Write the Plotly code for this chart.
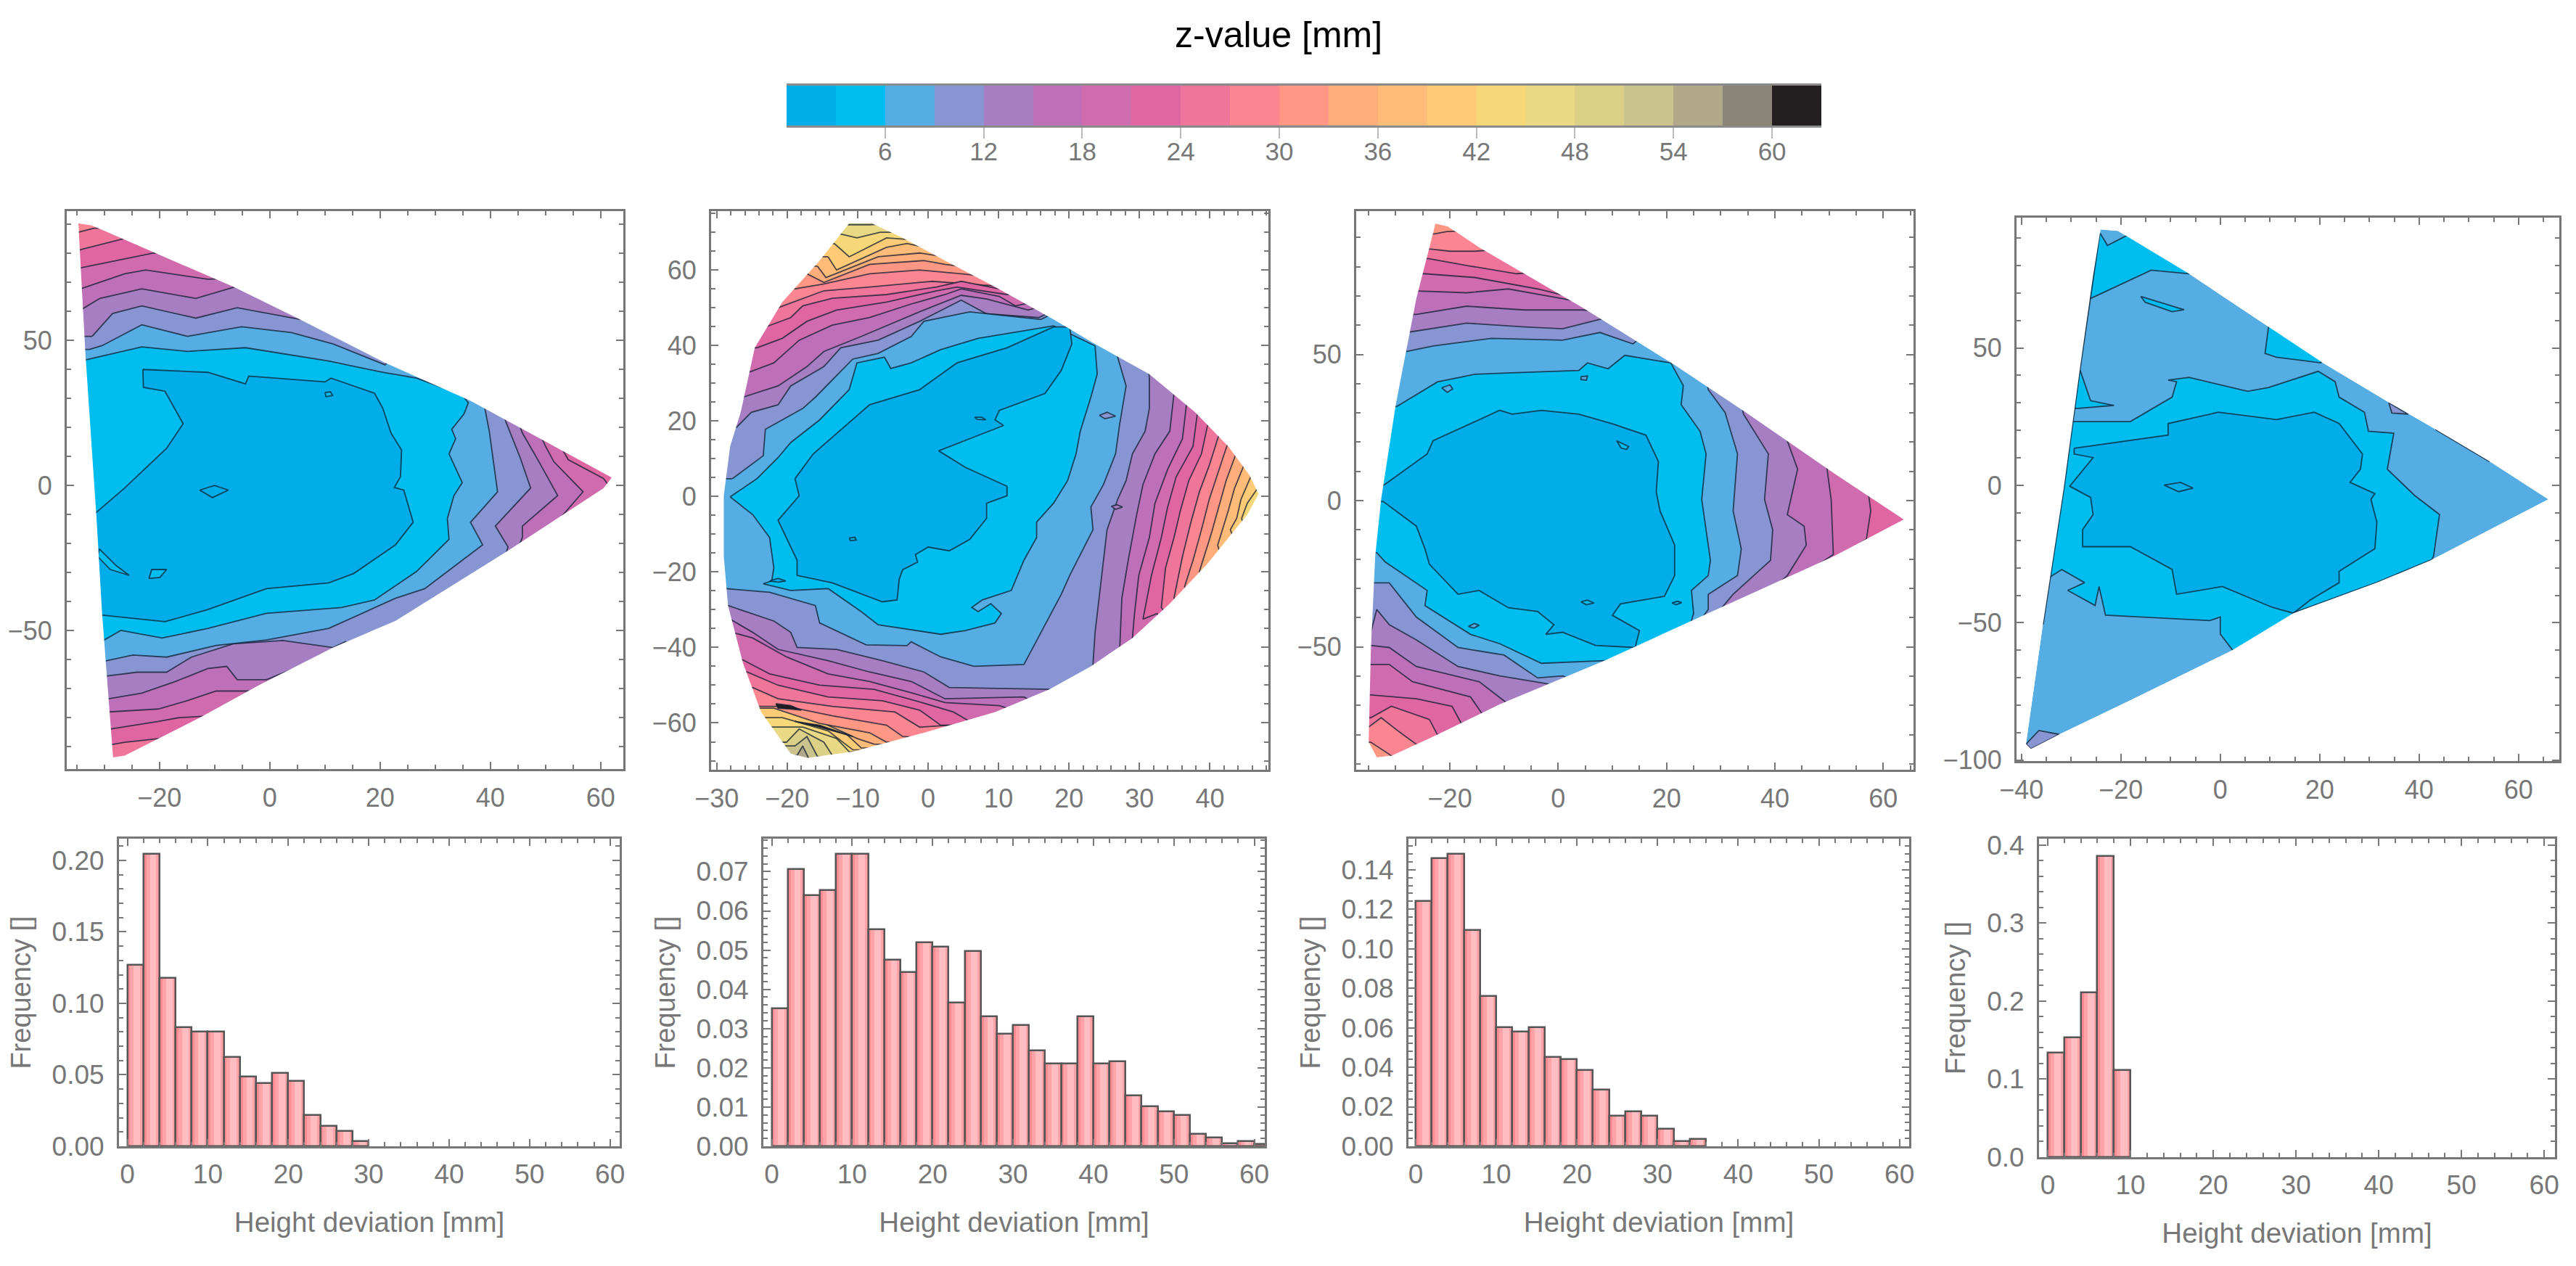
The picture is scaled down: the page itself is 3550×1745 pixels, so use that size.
import plotly.graph_objects as go

FONT = "Liberation Sans"
GRAY = "#777777"
LINE = "rgba(15,30,50,0.75)"
W, H = 3550, 1745

# colour of each 3 mm band, 0-3 first
band_colors = ["#00ADE9", "#00BDF0", "#55ADE3", "#8795D2", "#A87EC3", "#BD6FB7", "#D06BAE",
               "#E066A3", "#F0759A", "#FC8592", "#FF9784", "#FFAD7B", "#FFBB78", "#FFCB77",
               "#F7D878", "#E9D884", "#DCCF86", "#CBC38D", "#B0A888", "#8A8576", "#231F20"]
band_edges = [3 * i for i in range(22)]
bar_ticks = [6, 12, 18, 24, 30, 36, 42, 48, 54, 60]

# ---- panel 1, regions z < level
p1_outline = [(-34.7, 90.4), (-32.3, 89.7), (-21.7, 80.9), (-6.6, 68.5), (5.4, 57.3), (20.9, 42.3), (36.4, 29.2),
              (62, 2.7), (60.5, -1), (43.2, -22.5), (22.8, -46.7), (11.5, -55.9), (-2.1, -69), (-12.7, -80.1),
              (-26.3, -93.2), (-28.4, -93.8), (-30.4, -44), (-31.4, -11.4), (-33.4, 44.9)]
p1_l3 = [(-23, 40), (-11.2, 39), (-4.4, 35), (-3.8, 37.7), (10, 35.7), (11.1, 37), (19, 31.8), (20.5, 26.6), (22, 18),
         (23.9, 12.2), (23.7, 3), (22.6, -0.7), (24.3, -1.6), (26, -12.7), (22.8, -20.5), (15.2, -30.4), (10.7, -33.6),
         (-0.6, -35.6), (-11.2, -42.8), (-19, -47), (-30, -44.8), (-40, -44.8), (-40, -9.4), (-31.5, -9.4),
         (-26.3, -0.9), (-18.7, 12.8), (-15.7, 21.3), (-19, 32.5), (-22.9, 33.8)]
p1_l6 = [(-33.4, 43.3), (-23.2, 47.8), (-14.9, 46.2), (-4.4, 47.5), (10.7, 42.9), (20.5, 39), (26.6, 37), (34.9, 31.2),
         (36, 28.5), (35.2, 24.6), (33, 19.4), (33.7, 16.1), (32.5, 10.9), (34.9, 1), (33.4, -3.5), (32.2, -11.4),
         (32.5, -18.6), (26.6, -29.7), (19, -39.5), (13, -42.1), (-0.6, -44.1), (-11.2, -49.3), (-19.5, -52.6),
         (-27, -50), (-30, -53.3), (-45, -53), (-45, 43.3)]
p1_l9 = [(-32.7, 46.9), (-30.4, 48.2), (-23.2, 55.4), (-14.9, 51.4), (-5.1, 54.7), (3.9, 52.7), (11.5, 48.8),
         (20.9, 41.6), (35, 75), (39, 26.6), (39.8, 18.7), (40.9, 3), (41.3, -2.2), (36.4, -12.7), (38.6, -20.5),
         (32.6, -29.1), (28.1, -35.6), (22.8, -38.9), (16.8, -44.1), (10.7, -49.3), (-0.6, -53.3), (-9.7, -55.2),
         (-18.7, -59.2), (-24.8, -58.5), (-29.7, -60.5), (-45, -60.5), (-45, 46.9)]
p1_l12 = [(-32.2, 51.4), (-28.5, 59.3), (-23.2, 61.9), (-13.4, 57.7), (-5.9, 61.3), (5.4, 57.3), (35, 75), (42.8, 22),
          (45.4, 9.6), (47.3, -0.9), (40.9, -14), (43.2, -21.2), (35, -70), (13.7, -53.9), (11.5, -55.9), (2.4, -53.5),
          (-6.6, -54.6), (-14.2, -59.2), (-18.7, -64.4), (-24, -64.4), (-29.4, -65.7), (-45, -65.7), (-45, 51.4)]
p1_l15 = [(-34.2, 60.6), (-30.8, 64.5), (-23.2, 67.8), (-13.4, 64.5), (-6.3, 68.5), (35, 75), (45.8, 18.1), (48.8, 8.2),
          (52.2, -3.5), (45.8, -14), (45.8, -17.9), (35, -70), (5.4, -62.4), (-0.6, -67), (-5.9, -67), (-7.8, -62.4),
          (-11.2, -63.1), (-17.2, -67.7), (-23.2, -71.6), (-29.4, -73.6), (-45, -73.6), (-45, 60.6)]
p1_l18 = [(-34.3, 67.8), (-26.3, 73), (-22.5, 74.3), (-11.2, 71.1), (35, 75), (50, 13.5), (51.5, 8.2), (56.8, -2.2),
          (52.6, -11.4), (35, -70), (-3.6, -70.9), (-9.7, -70.9), (-14.9, -74.2), (-20.2, -77.1), (-29.1, -78.1),
          (-45, -78.1), (-45, 67.8)]
p1_l21 = [(-34.4, 75), (-21, 80.2), (35, 75), (54.1, 8.9), (60.5, 2.4), (61.3, 0.4), (35, -70), (-11.2, -79.5),
          (-16.5, -80.1), (-20.2, -81.4), (-28.9, -84), (-45, -84), (-45, 75)]
p1_l24 = [(-34.6, 81.2), (-26.3, 85.2), (90, 90), (90, -100), (-20.2, -87.3), (-26.3, -88.6), (-28.5, -89.3),
          (-45, -89.3), (-45, 81.2)]
p1_l27 = [(-34.6, 87.4), (-31.9, 88.7), (90, 95), (90, -100), (-45, -100), (-45, 87.4)]
p1_levels = [(3, p1_l3), (6, p1_l6), (9, p1_l9), (12, p1_l12), (15, p1_l15), (18, p1_l18), (21, p1_l21), (24, p1_l24),
             (27, p1_l27)]
p1_islands = [(0, [(-12.7, -1.6), (-10, 0), (-7.5, -1.6), (-10.4, -4.2)]),
              (1, [(-30.9, -21.9), (-27.8, -27.7), (-25.5, -31), (-28.9, -29), (-31.2, -24.5)]),
              (1, [(-21.9, -32.1), (-21.4, -29), (-18.7, -29), (-19.9, -31.7)]),
              (1, [(10, 32), (11, 32.3), (11.4, 31), (10.2, 30.6)])]

# ---- panel 2
p2_outline = [(-11.2, 72.4), (-8, 72.4), (-3.6, 68.5), (2.4, 62.5), (9.5, 55.5), (17.8, 46.9), (23.7, 40.4), (31.4, 32.4),
              (37.9, 22.3), (42.6, 13.3), (45.6, 5.7), (46.9, 0.7), (45.3, -4.8), (39.6, -17.9), (34.3, -28.4),
              (29, -37.5), (23.1, -45), (17.2, -51.1), (9.5, -57.1), (-0.6, -62.6), (-10.7, -67.6), (-17.2, -69.3),
              (-19.5, -68.1), (-23.7, -57.1), (-26.3, -44), (-28.4, -28.9), (-29, -15.9), (-29, 0.2), (-28.1, 13.3),
              (-26.6, 22.3), (-24.6, 39.4), (-20.7, 51.5), (-15.4, 62.5)]
p2_l3 = [(-18.9, 4.7), (-16.3, 11.3), (-8.3, 24.3), (-1.2, 28.3), (4.1, 35.4), (11.2, 39.4), (17.8, 44.9), (20.1, 44.9),
         (20.4, 40.4), (18.9, 33.4), (16.6, 27.3), (10.1, 22.8), (9.5, 20.3), (10.7, 18.8), (5.9, 15.3), (1.5, 12.1),
         (5.3, 7.7), (8.9, 4.7), (11.2, 2.7), (11.2, 0.2), (8.3, -1.8), (8.3, -5.8), (5.9, -11.4), (3, -14.4), (0, -13.4),
         (-1.8, -15.4), (-1.5, -17.4), (-3.6, -19.4), (-4.1, -21.9), (-4.4, -27.4), (-6.5, -27.9), (-13.6, -22.9),
         (-18.6, -20.9), (-18.6, -16.9), (-20.7, -8.8), (-21.3, -6.3), (-18.3, 0.2)]
p2_l6 = [(-28.1, -0.1), (-24.3, 4.7), (-21.3, 10.3), (-19.5, 14.3), (-15.4, 20.3), (-11.2, 28.3), (-10.1, 35.4),
         (-6.2, 36.9), (-5.3, 33.9), (-2.4, 35.4), (1.8, 38.9), (7.1, 41.9), (17.8, 45.2), (23.7, 39.9), (24, 32.4),
         (23.1, 26.3), (21.6, 17.3), (21, 11.3), (19.8, 4.2), (17.8, -1.8), (15.4, -6.8), (15.4, -10.9), (13.6, -16.9),
         (11.8, -24.9), (7.7, -27.4), (6.2, -29.4), (7.1, -30.5), (8.9, -28.4), (10.4, -31), (9.5, -33.5), (5.3, -35.5),
         (1.8, -36.5), (-7.1, -34), (-9.5, -30.5), (-14.2, -24.4), (-19.5, -24.9), (-23.4, -23.1), (-22.2, -22.4),
         (-21.9, -18.9), (-22.5, -10.9), (-24.9, -4.8)]
p2_l9 = [(-27.8, 4.7), (-23.4, 10.8), (-23.1, 17.8), (-17.8, 23.3), (-16, 26.3), (-10.7, 36.4), (-7.1, 37.9), (-2.4, 42.4),
         (-0.6, 46.4), (5.9, 48.9), (16, 46.9), (30, 60), (26.9, 36.9), (28.1, 29.3), (27.2, 19.3), (26.6, 11.3),
         (24.9, 3.2), (23.1, -2.8), (23.4, -8.8), (20.1, -20.9), (18.9, -25.9), (13.6, -44.5), (6.5, -45), (1.8, -42.5),
         (-2.4, -38.5), (-3, -39.5), (-8.8, -39.3), (-15.4, -33.5), (-16, -28.9), (-22.5, -25.4), (-28.7, -24.4),
         (-40, -24.4), (-40, 4.7)]
p2_l12 = [(-27.2, 18.3), (-25.1, 22.3), (-21.3, 24.3), (-19.5, 29.3), (-14.8, 34.4), (-12.4, 39.4), (-7.1, 41.4),
          (-1.2, 46.4), (4.7, 52), (8.3, 48.4), (15.7, 47.4), (30, 60), (31.4, 31.4), (31.4, 23.3), (30.8, 17.3),
          (29, 11.3), (28.1, 4.2), (26.9, -0.8), (25.4, -8.8), (24.3, -26.9), (23.7, -36), (23.4, -44.5), (25, -70),
          (17.2, -51.1), (3, -50.6), (-0.6, -46.5), (-6.5, -43.5), (-13, -40.5), (-18.6, -40), (-19.5, -36), (-21.9, -33),
          (-28.4, -28.9), (-40, -28.9), (-40, 18.3)]
p2_l15 = [(-26.3, 26.3), (-21.3, 29.3), (-17.2, 34.4), (-14.8, 38.4), (-9.5, 42.4), (-0.6, 49.4), (4.7, 53.3), (8.3, 52.3),
          (14.2, 49.4), (35, 60), (34.9, 27.3), (34.3, 17.3), (32.2, 11.3), (30.5, 3.2), (29.6, -4.8), (28.4, -16.9),
          (27.5, -26.9), (27.2, -40), (30, -70), (13.6, -53.1), (2.4, -53.6), (-2.4, -49), (-8.3, -46.5), (-14.2, -43.5),
          (-21.3, -40.5), (-24.9, -36), (-28.1, -32.5), (-40, -32.5), (-40, 26.3)]
p2_l18 = [(-25.3, 33), (-21.9, 35.4), (-18.3, 41.4), (-13.6, 45.4), (-8.3, 47.4), (-2.4, 51), (2.4, 53.5), (4.7, 55),
          (10.1, 53), (12.4, 50.5), (36, 60), (36.7, 24.8), (36.1, 15.3), (34, 7.2), (32.2, -1.8), (31.4, -10.9),
          (29.9, -20.9), (29.3, -31), (29, -37.5), (35, -70), (10.1, -55.4), (2.4, -54.6), (-2.4, -52), (-8.3, -49),
          (-14.2, -47), (-20.1, -42.5), (-24.9, -37.5), (-27.8, -36), (-40, -36), (-40, 33)]
p2_l21 = [(-24.3, 39.4), (-20.7, 41.9), (-17.2, 46.4), (-13, 49.4), (-5.9, 51.5), (1.2, 54.5), (4.1, 55.5), (11.2, 53.5),
          (40, 60), (38.2, 21.8), (37.6, 13.3), (35.2, 5.2), (34, -2.8), (33.1, -10.9), (31.7, -20.9), (30.5, -32.5),
          (32.5, -31), (40, -70), (5.9, -59.6), (3.6, -57.1), (-1.8, -54.1), (-7.7, -51.1), (-15.4, -50), (-22.5, -47),
          (-26.6, -43), (-40, -43), (-40, 39.4)]
p2_l24 = [(-23.1, 44.9), (-19.5, 47.4), (-17.8, 50.5), (-13.6, 52.5), (-5.9, 53.5), (1.2, 55.5), (4.7, 57), (10.1, 55),
          (45, 55), (39.6, 18.3), (38.8, 11.3), (37, 4.2), (35.8, -3.8), (34.9, -10.9), (33.7, -18.9), (33.1, -29.4),
          (45, -60), (1.8, -60.6), (-1.2, -56.6), (-6.5, -54.1), (-14.2, -53.1), (-21.3, -50), (-25.7, -46.5),
          (-40, -46.5), (-40, 44.9)]
p2_l27 = [(-21.3, 50), (-17.8, 52.5), (-14.8, 54.5), (-8.3, 55.5), (0.6, 57), (7.7, 56), (48, 52), (41.1, 15.3), (39.9, 8.2),
          (38.5, 1.2), (37.3, -6.8), (36.1, -15.9), (34.9, -26.9), (48, -55), (-1.2, -61.1), (-4.7, -57.1), (-13.6, -55.6),
          (-21.3, -53.6), (-24.9, -50.6), (-40, -50.6), (-40, 50)]
p2_l30 = [(-18.9, 55), (-14.8, 56.3), (-8.3, 59), (-1.2, 60), (4.7, 59), (50, 50), (42.3, 12.8), (41.1, 6.2), (39.9, -0.8),
          (38.8, -8.8), (37.6, -16.9), (36.4, -23.9), (50, -70), (-3.6, -63.6), (-5.9, -60.6), (-13.6, -58.1),
          (-20.1, -55.6), (-24, -55.6), (-40, -55.6), (-40, 55)]
p2_l33 = [(-17.2, 59), (-14.8, 56.7), (-8.3, 61.5), (-0.6, 62.5), (2.4, 61.5), (50, 50), (43.5, 10.3), (42.3, 4.2),
          (41.4, -1.8), (40.2, -9.8), (38.5, -19.9), (50, -70), (-5.9, -65.1), (-8.3, -62.6), (-15.4, -60.1),
          (-21.9, -56.1), (-40, -56.1), (-40, 59)]
p2_l36 = [(-15.7, 61), (-14.5, 58), (-7.1, 63.5), (-1.2, 64.5), (50, 50), (44.7, 7.7), (43.5, 2.2), (42.6, -3.8),
          (41.1, -12.9), (50, -70), (-7.7, -65.6), (-10.1, -64.1), (-14.2, -60.6), (-18.3, -56.6), (-21.3, -55.1),
          (-40, -55.1), (-40, 61)]
p2_l39 = [(-14.2, 63.5), (-13, 60), (-5.9, 66), (-3, 67), (55, 45), (45.7, 4.7), (44.4, -0.8), (43.8, -5.8), (42.9, -8.8),
          (55, -70), (-9.5, -66.6), (-11.8, -62.6), (-15.4, -58.6), (-20.1, -55.6), (-40, -55.6), (-40, 63.5)]
p2_l42 = [(-13.3, 67), (-11.2, 63.5), (-5.9, 68.5), (55, 60), (46.6, 1.7), (45.3, -1.8), (44.5, -5.8), (55, -70),
          (-10.7, -67.1), (-14.2, -62.1), (-20.7, -58.6), (-40, -58.6), (-40, 67)]
p2_l45 = [(-12.4, 69.5), (-10.1, 68.5), (-6.8, 70), (60, 70), (60, -70), (-11.2, -67.6), (-13, -64.1), (-17.8, -61.1),
          (-21.3, -61.1), (-40, -61), (-40, 69.5)]
p2_l48 = [(-10.7, 72), (-8.3, 72), (60, 80), (60, -80), (-13.6, -68.6), (-14.8, -65.1), (-18.3, -61.6), (-20.1, -65.1),
          (-40, -65.1), (-40, 72)]
p2_l51 = [(-40, 90), (60, 90), (60, -80), (-15.7, -68.9), (-17.2, -63.6), (-18.9, -66.1), (-40, -66.1)]
p2_l54 = [(-40, 90), (60, 90), (60, -80), (-16.9, -69.6), (-17.8, -66.1), (-18.6, -68.6), (-40, -68.6)]
p2_levels = [(3, p2_l3), (6, p2_l6), (9, p2_l9), (12, p2_l12), (15, p2_l15), (18, p2_l18), (21, p2_l21), (24, p2_l24),
             (27, p2_l27), (30, p2_l30), (33, p2_l33), (36, p2_l36), (39, p2_l39), (42, p2_l42), (45, p2_l45),
             (48, p2_l48), (51, p2_l51), (54, p2_l54)]
p2_islands = [(3, [(24.3, 21.5), (25.4, 22.3), (26.6, 21.3), (25.1, 20.6)]),
              (4, [(26, -2.6), (26.8, -2.2), (27.6, -2.8), (26.6, -3.4)]),
              (1, [(6.6, 21), (7.6, 21), (8.2, 20.3), (7, 20.4)]),
              (1, [(-11.2, -11), (-10.4, -10.8), (-10.2, -11.5), (-11, -11.7)]),
              (0, [(-22.5, -22.4), (-21.3, -21.7), (-20.2, -22.4), (-21.3, -22.7)]),
              (20, [(-21.6, -54.9), (-19.5, -55.4), (-18, -56.6), (-19.5, -56.3), (-21.3, -56.1)]),
              (20, [(-18.9, -59.6), (-15.4, -60.6), (-10.7, -63.6), (-15.4, -61.1)])]

# ---- panel 3
p3_outline = [(-22.7, 94.8), (-20.4, 93.8), (-14.6, 86.6), (4.6, 65.9), (21.5, 46.4), (34.6, 30.2), (50.8, 9.5), (63.8, -6.4),
              (50.8, -19.1), (27.7, -38.5), (8.5, -54.7), (-10.8, -69.6), (-22.3, -80), (-30.8, -87.2), (-33.5, -87.8),
              (-35, -82.6), (-34.6, -51.5), (-33.8, -19.1), (-32.7, 0.4), (-30, 32.8), (-28.1, 51), (-26.2, 69.1),
              (-23.5, 88.6)]
p3_l3 = [(-32.2, 5.3), (-24.2, 16), (-23.1, 20.5), (-10.8, 30.9), (-8.5, 29.6), (-3.1, 30.9), (3.8, 29.6), (10, 26.3),
         (16.2, 22.4), (18.5, 13.4), (18.1, 3), (18.8, -3.5), (21.5, -15.2), (21.5, -25.6), (19.6, -32.7), (11.5, -35.3),
         (10, -39.2), (15, -44.4), (14.2, -50.2), (6.9, -49.5), (0.8, -45), (-2.3, -45.7), (-0.8, -42.4), (-3.8, -37.9),
         (-9.2, -36.6), (-14.6, -30.7), (-18.5, -32), (-23.8, -21.7), (-24.6, -16.5), (-26.2, -8.7), (-32.3, -0.3),
         (-45, -0.3), (-45, 5.3)]
p3_l6 = [(-29.8, 32.2), (-22.3, 40.6), (-15.4, 43.2), (-7.7, 43.8), (3.8, 44.5), (5.4, 47.1), (9.2, 45.1), (12.3, 49.7),
         (20.8, 47.1), (23.1, 39.3), (22.7, 32.8), (26.2, 23.7), (27.3, 16), (26.5, 0.4), (28.1, -20.4), (27.7, -25.6),
         (24.6, -30.7), (25, -38.5), (20, -70), (8.5, -54.7), (-3.1, -55.6), (-10.8, -48.9), (-16.2, -45.7), (-24.6, -35.9),
         (-24.2, -30.7), (-27.7, -26.2), (-31.9, -21), (-33.5, -17.8), (-45, -17.8), (-45, 32.2)]
p3_l9 = [(-28.1, 51), (-23.1, 52.9), (-12.3, 55.5), (0.8, 54.9), (7.7, 57.5), (13.8, 53.6), (25, 70), (27.7, 38), (30.8, 30.2),
         (33.1, 16), (32.3, -3.5), (33.8, -16.5), (33.1, -25.6), (27.7, -32), (27.7, -37.2), (15, -70), (0.8, -59.9),
         (-3.8, -60.6), (-10, -52.8), (-18.5, -50.2), (-26.2, -39.8), (-31.2, -28.1), (-33.8, -28.1), (-45, -28.1), (-45, 51)]
p3_l12 = [(-27.3, 57.7), (-16.9, 60.7), (-6.2, 59.4), (0.8, 58.8), (7.7, 62), (30, 70), (34.2, 29.6), (38.8, 16), (38.1, 0.4),
          (39.6, -10), (39.2, -20.4), (32.3, -32), (15, -70), (-2.3, -62.5), (-10.8, -59.9), (-18.5, -56.7), (-26.2, -47.6),
          (-31.2, -42.4), (-33.5, -37.2), (-34.6, -45), (-45, -45), (-45, 57.7)]
p3_l15 = [(-26.2, 63.7), (-16.9, 66.5), (-6.2, 65.2), (4.6, 65.2), (35, 60), (42.3, 20.5), (44.2, 10.8), (42.3, -4.8),
          (45.4, -8.7), (45.8, -15.2), (42.3, -25.6), (15, -70), (-9.6, -69), (-14.6, -61.9), (-26.2, -56.7), (-31.2, -50.2),
          (-34.6, -49.5), (-45, -49.5), (-45, 63.7)]
p3_l18 = [(-25.8, 71.7), (-16.9, 71.1), (-9.2, 72.4), (0.8, 69.1), (40, 55), (49.6, 11.4), (50.4, 0.4), (50.8, -18.4),
          (10, -70), (-13.8, -73.5), (-16.2, -67.1), (-26.9, -61.9), (-31.2, -56), (-34.6, -56), (-45, -56), (-45, 71.7)]
p3_l21 = [(-24.8, 77.6), (-15.4, 76.3), (-3.8, 72.4), (45, 50), (57.3, 2.3), (57.7, -3.5), (56.9, -13.2), (5, -75),
          (-17.7, -76.8), (-19.6, -70.3), (-26.2, -67.7), (-34.6, -66.4), (-45, -66.4), (-45, 77.6)]
p3_l24 = [(-24, 82.8), (-16.2, 80.2), (-7.7, 77.6), (90, 90), (90, -60), (-22.3, -80), (-23.8, -74.8), (-30.8, -70.3),
          (-34.6, -74.2), (-45, -74.2), (-45, 82.8)]
p3_l27 = [(-23.5, 86), (-20, 85.3), (-15.4, 85.3), (90, 100), (90, -90), (-26.2, -83.3), (-29.6, -78.7), (-32.7, -74.2),
          (-35, -77.4), (-45, -77.4), (-45, 86)]
p3_l30 = [(-45, 91), (-22.9, 91.2), (-20.5, 92), (90, 100), (90, -100), (-30.8, -87.2), (-34.6, -82.6), (-45, -82.6)]
p3_levels = [(3, p3_l3), (6, p3_l6), (9, p3_l9), (12, p3_l12), (15, p3_l15), (18, p3_l18), (21, p3_l21), (24, p3_l24),
             (27, p3_l27), (30, p3_l30)]
p3_islands = [(1, [(10.8, 20.5), (13, 18.5), (12.6, 17.5), (11.6, 18)]),
              (2, [(-21.5, 38.6), (-20, 39.6), (-19.5, 38.2), (-20.5, 37)]),
              (2, [(4.2, 42.4), (5.4, 42.6), (5.2, 41.2), (4.2, 41.4)]),
              (1, [(4.2, -34.6), (5.4, -34), (6.6, -35), (5.2, -35.6)]),
              (1, [(21, -35), (22, -34.4), (22.8, -34.8), (21.8, -35.6)]),
              (2, [(-16.6, -43), (-15.5, -42), (-14.6, -42.6), (-15.6, -43.6)])]

# ---- panel 4
p4_outline = [(-24.1, 93.1), (-20.6, 92.6), (-6.3, 77), (9.7, 57.7), (20.6, 44.6), (34, 30.1), (43.3, 20.4), (54.2, 8.7),
              (66, -5.1), (42.4, -27.2), (31.5, -35.4), (14.7, -46.5), (2.1, -60.3), (-18.1, -78.2), (-32.4, -90.6),
              (-38.1, -95.9), (-39.1, -94.1), (-35.7, -50.6), (-31.5, -1), (-28.2, 43.2), (-25.6, 76.3)]
p4_l3 = [(-29.4, 13.5), (-10.5, 18.3), (-10.5, 22.5), (-0.4, 26.6), (11.3, 23.9), (18.9, 26.6), (23.9, 22.5), (28.6, 11.4),
         (28.2, 5.9), (26.1, 1.1), (31.1, -3), (30.3, -5.1), (31.5, -13.4), (31.1, -23), (23.9, -31.3), (23.9, -35.4),
         (18.1, -41.7), (14.7, -46.5), (10.5, -44.4), (0.4, -36.8), (-8.8, -39.6), (-9.7, -30.6), (-18.1, -22.3),
         (-27.7, -22.3), (-27.7, -16.1), (-25.6, -10.6), (-26.1, -4.4), (-30.3, -0.3), (-25.6, 10.1), (-29.4, 11.4)]
p4_l6 = [(-29, 23.2), (-18.1, 23.2), (-9.7, 32.1), (-8.8, 37.7), (-10.5, 38.3), (-6.3, 39.3), (5.5, 34.2), (9.7, 35.6),
         (19.7, 41.5), (23.1, 37.7), (23.9, 32.1), (29, 26.6), (29.8, 19.7), (34.9, 19), (33.6, 5.9), (39.1, -3.7),
         (44.1, -10.6), (42.9, -25.8), (30, -70), (2.5, -60), (0, -54.1), (0, -47.9), (-2.1, -49.2), (-23.1, -47.2),
         (-24.4, -36.8), (-25.2, -43.7), (-30.7, -38.2), (-27.3, -35.4), (-31.9, -30.6), (-34.9, -34.1), (-50, -34.1),
         (-50, 23.2)]
p4_l6_sliver = [(-28.2, 41.8), (-26.1, 30.8), (-21.4, 29.1), (-28.6, 28), (-50, 28), (-50, 41.8)]
p4_l6_top = [(-26.1, 68), (-13.9, 78.3), (-6.3, 77), (10, 90), (-18.9, 90.8), (-22.7, 87.3), (-24.1, 91.5), (-50, 91.5),
             (-50, 68)]
p4_l6_wedge = [(9.7, 57.7), (25, 60), (20.2, 44.6), (11.3, 46.6), (9, 48)]
p4_l6_oval = [(-16, 68.7), (-7.3, 63.9), (-9.7, 63.2), (-15.1, 66.6)]
p4_levels = [(3, p4_l3), (6, p4_l6)]
p4_islands = [(1, p4_l6_sliver), (1, p4_l6_top), (1, p4_l6_wedge), (1, p4_l6_oval),
              (0, [(-11.3, 0.1), (-8, 1.1), (-5.5, -1), (-8.4, -2.3)]),
              (3, [(-39.1, -94.1), (-36.5, -89.2), (-32.4, -90.6), (-38.1, -95.9)]),
              (3, [(33.9, 30.1), (37.8, 25.9), (34.5, 26.3)])]
p4_dark_edges = [[(-24.3, 91.5), (-28.2, 43.2), (-31.5, -1), (-35.7, -50.6)],
                 [(14.7, -46.5), (31.5, -35.4), (42.4, -27.2)],
                 [(43.3, 20.4), (54.2, 8.7)]]

# ---- histograms, 2 mm bins from 0
hist1 = [0.127, 0.2045, 0.118, 0.0834, 0.0804, 0.0804, 0.0622, 0.0489, 0.0444, 0.0515, 0.0457, 0.0216, 0.0141, 0.0109,
         0.0034]
hist2 = [0.0352, 0.0706, 0.064, 0.0653, 0.0745, 0.0745, 0.0553, 0.0475, 0.0443, 0.0519, 0.0509, 0.0366, 0.0497, 0.0331,
         0.0287, 0.0309, 0.0244, 0.021, 0.0211, 0.0331, 0.021, 0.0217, 0.0129, 0.0101, 0.0088, 0.0079, 0.0031, 0.0022,
         0.0007, 0.0013, 0.0006]
hist3 = [0.124, 0.1458, 0.148, 0.1096, 0.076, 0.0604, 0.0582, 0.0604, 0.045, 0.0439, 0.0385, 0.0288, 0.0156, 0.0178,
         0.0156, 0.0088, 0.0026, 0.0035]
hist4 = [0.134, 0.1537, 0.211, 0.386, 0.1119]

# frame of each panel in page pixels: left, right, top, bottom
map_frames = [(92, 859, 291, 1060), (980, 1748, 291, 1061), (1869, 2637, 291, 1061), (2779, 3527, 300, 1049)]
map_xrange = [(-36.8, 64.1), (-30.8, 48.3), (-37.3, 65.6), (-41, 68.2)]
map_yrange = [(-97.8, 94.6), (-72.4, 75.6), (-92, 99), (-100.3, 97.4)]
map_dtick = [(20, 5, 50, 10), (10, 2, 20, 5), (20, 5, 50, 10), (20, 5, 50, 10)]
hist_frames = [(164, 854, 1156, 1580), (1052, 1743, 1156, 1580), (1941, 2631, 1156, 1580), (2810, 3521, 1156, 1595)]
hist_xrange = [(-1.04, 61.2), (-1.04, 61.3), (-0.9, 61.2), (-1.06, 61.3)]
hist_ytop = [0.2152, 0.0784, 0.1557, 0.408]
hist_dtick = [(0.05, 0.01, ".2f"), (0.01, 0.002, ".2f"), (0.02, 0.004, ".2f"), (0.1, 0.02, ".1f")]


def xdom(f):
    return [f[0] / W, f[1] / W]


def ydom(f):
    return [1 - f[3] / H, 1 - f[2] / H]


def axis_style(size=36, standoff=10):
    return dict(automargin=False, showgrid=False, zeroline=False, showline=True, linecolor=GRAY, linewidth=3,
                mirror="allticks", ticks="inside", ticklen=10, tickwidth=2, tickcolor=GRAY, ticklabelstandoff=standoff,
                tickfont=dict(family=FONT, size=size, color=GRAY))


def add_poly(fig, pts, n, fill, line=LINE, width=1.8):
    xs = [p[0] for p in pts] + [pts[0][0]]
    ys = [p[1] for p in pts] + [pts[0][1]]
    fig.add_trace(go.Scatter(x=xs, y=ys, mode="lines", fill="toself", fillcolor=fill,
                             line=dict(color=line, width=width), hoverinfo="skip", showlegend=False,
                             xaxis=f"x{n}", yaxis=f"y{n}"))


fig = go.Figure()
layout = {}

panels = [(p1_outline, p1_levels, p1_islands, 9), (p2_outline, p2_levels, p2_islands, 18),
          (p3_outline, p3_levels, p3_islands, 10), (p4_outline, p4_levels, p4_islands, 2)]

for i, (outline, levels, islands, top_band) in enumerate(panels):
    n = i + 1
    add_poly(fig, outline, n, band_colors[top_band], line="rgba(0,0,0,0)", width=0)
    for level, pts in reversed(levels):
        add_poly(fig, pts, n, band_colors[level // 3 - 1])
    for band, pts in islands:
        add_poly(fig, pts, n, band_colors[band])
    if i == 3:
        for edge in p4_dark_edges:
            fig.add_trace(go.Scatter(x=[p[0] for p in edge], y=[p[1] for p in edge], mode="lines",
                                     line=dict(color="rgba(10,30,50,0.8)", width=2.5), hoverinfo="skip",
                                     showlegend=False, xaxis=f"x{n}", yaxis=f"y{n}"))
    # white outside the outline keeps the edge of the plate clean
    x0, x1 = map_xrange[i]
    y0, y1 = map_yrange[i]
    mx = [x0, x1, x1, x0, x0] + [p[0] for p in outline] + [outline[0][0], x0]
    my = [y0, y0, y1, y1, y0] + [p[1] for p in outline] + [outline[0][1], y0]
    fig.add_trace(go.Scatter(x=mx, y=my, mode="lines", fill="toself", fillcolor="white", line=dict(width=0),
                             hoverinfo="skip", showlegend=False, xaxis=f"x{n}", yaxis=f"y{n}"))
    xd, xm, yd, ym = map_dtick[i]
    layout[f"xaxis{n}"] = dict(axis_style(standoff=6), domain=xdom(map_frames[i]), range=list(map_xrange[i]), anchor=f"y{n}",
                               dtick=xd, tick0=0,
                               minor=dict(ticks="inside", ticklen=6, dtick=xm, tick0=0, tickwidth=2, tickcolor=GRAY))
    layout[f"yaxis{n}"] = dict(axis_style(), domain=ydom(map_frames[i]), range=list(map_yrange[i]), anchor=f"x{n}",
                               dtick=yd, tick0=0,
                               minor=dict(ticks="inside", ticklen=6, dtick=ym, tick0=0, tickwidth=2, tickcolor=GRAY))

for i, values in enumerate([hist1, hist2, hist3, hist4]):
    n = i + 5
    centers = [1 + 2 * k for k in range(len(values))]
    # Plotly bars have no gradient, so narrower lighter bars are stacked to fake the shading
    for width, shift, color in [(2, 0, "#FF8A92"), (1.5, 0.1, "#FFA3A9"), (0.8, 0.2, "#FFBDC1")]:
        fig.add_trace(go.Bar(x=[c + shift for c in centers], y=values, width=width, marker=dict(color=color, line=dict(width=0)),
                             hoverinfo="skip", showlegend=False, cliponaxis=False, xaxis=f"x{n}", yaxis=f"y{n}"))
    fig.add_trace(go.Bar(x=centers, y=values, width=2, marker=dict(color="rgba(0,0,0,0)", line=dict(color="#555555", width=2.5)),
                         showlegend=False, cliponaxis=False, xaxis=f"x{n}", yaxis=f"y{n}"))
    yd, ym, fmt = hist_dtick[i]
    layout[f"xaxis{n}"] = dict(axis_style(37, 4), domain=xdom(hist_frames[i]), range=list(hist_xrange[i]), anchor=f"y{n}",
                               dtick=10, tick0=0,
                               minor=dict(ticks="inside", ticklen=6, dtick=2, tick0=0, tickwidth=2, tickcolor=GRAY),
                               title=dict(text="Height deviation [mm]", standoff=33,
                                          font=dict(family=FONT, size=38.5, color=GRAY)))
    layout[f"yaxis{n}"] = dict(axis_style(37), domain=ydom(hist_frames[i]), range=[0, hist_ytop[i]], anchor=f"x{n}",
                               dtick=yd, tick0=0, tickformat=fmt,
                               minor=dict(ticks="inside", ticklen=6, dtick=ym, tick0=0, tickwidth=2, tickcolor=GRAY),
                               title=dict(text="Frequency []", standoff=18,
                                          font=dict(family=FONT, size=38, color=GRAY)))

# colour key across the top
n_bands = len(band_colors)
scale = []
for k, c in enumerate(band_colors):
    scale += [[k / n_bands, c], [(k + 1) / n_bands, c]]
fig.add_trace(go.Heatmap(x=band_edges, y=[0, 1], z=[list(range(n_bands))], zmin=-0.5, zmax=n_bands - 0.5, colorscale=scale,
                         showscale=False, hoverinfo="skip", xaxis="x9", yaxis="y9"))
layout["xaxis9"] = dict(automargin=False, domain=[1084 / W, 2510 / W], range=[0, 63], anchor="y9", tickvals=bar_ticks,
                        ticks="outside", ticklen=15, tickwidth=1.5, tickcolor="#BBBBBB", ticklabelstandoff=-12,
                        showline=True, mirror=True, linewidth=3, linecolor="rgba(90,90,90,0.7)", showgrid=False,
                        zeroline=False, tickfont=dict(family=FONT, size=35, color=GRAY))
layout["yaxis9"] = dict(automargin=False, domain=[1 - 173 / H, 1 - 118 / H], range=[0, 1], anchor="x9",
                        showticklabels=False, ticks="", showgrid=False, zeroline=False)

fig.update_layout(
    width=W, height=H, margin=dict(l=0, r=0, t=0, b=0), paper_bgcolor="white", plot_bgcolor="white",
    barmode="overlay", bargap=0, showlegend=False,
    annotations=[dict(text="z-value [mm]", x=1762 / W, y=1 - 48 / H, xref="paper", yref="paper", showarrow=False,
                      xanchor="center", yanchor="middle", font=dict(family=FONT, size=50, color="black"))],
    **layout)

fig.write_html("out.html", config={"displayModeBar": False}, post_script="document.body.style.margin='0';")
